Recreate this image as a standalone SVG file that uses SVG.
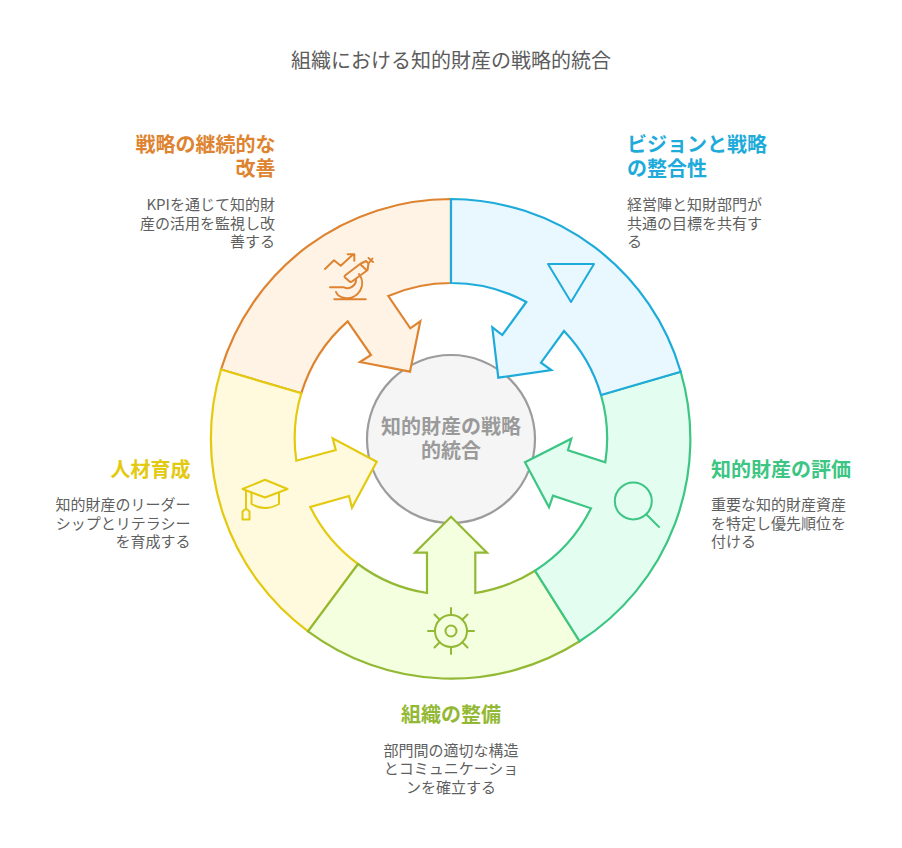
<svg xmlns="http://www.w3.org/2000/svg" width="902" height="848" viewBox="0 0 902 848">
<style>
text{font-family:"Noto Sans CJK JP","Noto Sans",sans-serif}
.title{font-size:20px;fill:#5c5c5c;text-anchor:middle}
.h{font-size:20px;font-weight:700}
.b{font-size:15px;fill:#5f5f5f}
.c{font-size:20px;font-weight:700;fill:#9a9a9a;text-anchor:middle}
.e{text-anchor:end}.m{text-anchor:middle}
.seg{stroke-width:2.2;stroke-linejoin:miter}
.ic{fill:none;stroke-width:2;stroke-linecap:round;stroke-linejoin:round}
</style>
<rect width="902" height="848" fill="#ffffff"/>
<text class="title" x="451" y="68">組織における知的財産の戦略的統合</text>
<g id="node-center">
<circle cx="451" cy="439" r="84" fill="#f5f5f5" stroke="#9c9c9c" stroke-width="2.200"/>
</g>
<g id="connectors"/>
<g id="node-orange">
<path class="seg" fill="#fff3e6" stroke="#de8431" d="M451 199A240 240 0 0 0 221 369.500L301.300 393.300A156 156 0 0 1 347.700 321.300L371 355L360 362L410 371.700L420.300 321.300L410.300 328.300L388.300 296A156 156 0 0 1 451 283Z"/>
<g class="ic" stroke="#de8431">
<path d="M325 269L334 260.300L340.700 265.700L353.300 254.300M347.700 254.300H354.300V260.700"/>
<path d="M345 275.500L360 264L367 270.500L352 281.500Q350.500 282.500 349 281L345 277.500Q344 276.500 345 275.500Z"/>
<path d="M361 263.500L366 261L368.500 263.500L367.500 270M368.500 263.500L372.500 258.500M368.500 258L373 262"/>
<path d="M330 287.300H344A8.500 8.500 0 0 0 356 279M336 292Q338 297 345 298A15 15 0 0 0 359 274M334.300 299.300H365.700"/>
</g>
<text class="h e" fill="#de8431" x="275.500" y="152">戦略の継続的な</text>
<text class="h e" fill="#de8431" x="275.500" y="176">改善</text>
<text class="b e" x="275" y="210">KPIを通じて知的財</text>
<text class="b e" x="275" y="228.500">産の活用を監視し改</text>
<text class="b e" x="275" y="247">善する</text>
</g>
<g id="node-yellow">
<path class="seg" fill="#fffadd" stroke="#e3c90f" d="M221 369.500A240 240 0 0 0 308 631.300L358 564A156 156 0 0 1 310.300 507L349 496L352 507.700L376.700 461.700L332.700 438.300L335.700 450L296.300 460.700A156 156 0 0 1 301.300 393.300Z"/>
<g class="ic" stroke="#e3c90f"><path d="M242.500 489L265 479.800L287.500 489L265 497.500Z"/><path d="M251.500 493V504Q265 512 279 504V493"/><path d="M246 491V508.500M242.500 519.500V511.500L246 508.500L249.500 511.500V519.500Z"/></g>
<text class="h e" fill="#e3c90f" x="190.500" y="477">人材育成</text>
<text class="b e" x="190.500" y="510">知的財産のリーダー</text>
<text class="b e" x="190.500" y="528.500">シップとリテラシー</text>
<text class="b e" x="190.500" y="547">を育成する</text>
</g>
<g id="node-lime">
<path class="seg" fill="#f4ffdf" stroke="#93b934" d="M308 631.300A240 240 0 0 0 579.700 641.300L535 570.700A156 156 0 0 1 475.300 593V552.700H487L451 516.700L415 552.700H427V593A156 156 0 0 1 358 564Z"/>
<g class="ic" stroke="#93b934"><circle cx="451" cy="631" r="16"/><circle cx="451" cy="631" r="5.500"/><path d="M451 608V615M451 647V654M428 631H435M467 631H474M434.500 614.500L439.700 619.700M462.300 642.300L467.500 647.500M434.500 647.500L439.700 642.300M462.300 619.700L467.500 614.500"/></g>
<text class="h m" fill="#93b934" x="451" y="722">組織の整備</text>
<text class="b m" x="451" y="756">部門間の適切な構造</text>
<text class="b m" x="451" y="774">とコミュニケーショ</text>
<text class="b m" x="451" y="792.500">ンを確立する</text>
</g>
<g id="node-teal">
<path class="seg" fill="#e3fef1" stroke="#3cc583" d="M680.700 371.700A240 240 0 0 1 579.700 641.300L535 570.700A156 156 0 0 0 591 508.300L553 495.700L549 507.300L525 462.300L571.300 438.700L568 450.300L605.300 462.300A156 156 0 0 0 601 395Z"/>
<g class="ic" stroke="#3cc583"><circle cx="633.300" cy="501" r="18.500"/><path d="M646.500 514.500L659 527"/></g>
<text class="h" fill="#3cc583" x="711" y="477">知的財産の評価</text>
<text class="b" x="711" y="510">重要な知的財産資産</text>
<text class="b" x="711" y="528.500">を特定し優先順位を</text>
<text class="b" x="711" y="547">付ける</text>
</g>
<g id="node-blue">
<path class="seg" fill="#e9f8ff" stroke="#1eabda" d="M451 199A240 240 0 0 1 680.700 371.700L601 395A156 156 0 0 0 564 331L541 362.700L551.300 370L498.300 377.700L492.300 327.300L502.300 335L526.300 302A156 156 0 0 0 451 283Z"/>
<path class="ic" stroke="#1eabda" d="M548 264H594L571 302Z"/>
<text class="h" fill="#1eabda" x="627" y="152">ビジョンと戦略</text>
<text class="h" fill="#1eabda" x="627" y="176">の整合性</text>
<text class="b" x="627" y="210">経営陣と知財部門が</text>
<text class="b" x="627" y="228.500">共通の目標を共有す</text>
<text class="b" x="627" y="247">る</text>
</g>
<g id="center-label">
<text class="c" x="451" y="434">知的財産の戦略</text>
<text class="c" x="451" y="458">的統合</text>
</g>
</svg>
